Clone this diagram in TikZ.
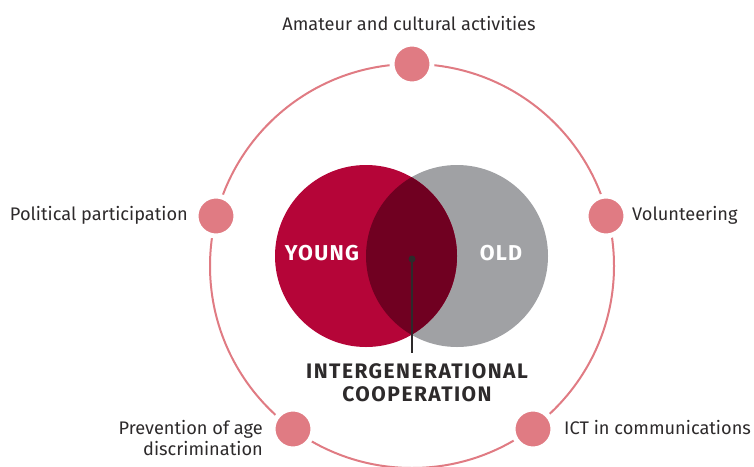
\documentclass[tikz,border=0pt]{standalone}
\usepackage{fontspec}
\setmainfont{Fira Sans}
\definecolor{young}{RGB}{181,5,56}
\definecolor{old}{RGB}{160,161,164}
\definecolor{overlap}{RGB}{112,0,33}
\definecolor{pinkdot}{RGB}{224,123,131}
\definecolor{txt}{RGB}{45,42,43}
\begin{document}
\begin{tikzpicture}[x=1pt,y=-1pt,
  topicdot/.style={circle,fill=pinkdot,draw=white,line width=5pt,minimum size=40pt,inner sep=0pt},
  venn/.style={circle,minimum size=182pt,inner sep=0pt},
  label/.style={inner sep=0pt,text=txt,font=\fontsize{18.2}{21}\selectfont},
  vennlabel/.style={inner sep=0pt,text=white,font=\fontsize{21.5}{24}\selectfont\bfseries\addfontfeatures{LetterSpace=6}},
  titlelabel/.style={inner sep=0pt,text=txt,align=center,font=\fontsize{21}{23.5}\selectfont\bfseries\addfontfeatures{LetterSpace=7}},
  ring/.style={draw=pinkdot,line width=2pt}
]
\useasboundingbox (0,0) rectangle (754,466);
% outer ring
\draw[ring] (412,266) circle (202pt);
% topic dots
\node[topicdot] (d1) at (412,64) {};
\node[topicdot] (d2) at (216,216) {};
\node[topicdot] (d3) at (606,216) {};
\node[topicdot] (d4) at (293,429) {};
\node[topicdot] (d5) at (533,429) {};
% labels
\node[label,anchor=base] (l1) at (409,30) {Amateur and cultural activities};
\node[label,anchor=base east] (l2) at (188,220) {Political participation};
\node[label,anchor=base west] (l3) at (632,220.5) {Volunteering};
\node[label,anchor=base east,align=right] (l4) at (263,455) {Prevention of age\\discrimination};
\node[label,anchor=base west] (l5) at (564,434) {ICT in communications};
% venn
\node[venn,fill=old] (old) at (457,256) {};
\node[venn,fill=young] (young) at (366,256) {};
\begin{scope}
  \clip (366,256) circle (91pt);
  \fill[overlap] (457,256) circle (91pt);
\end{scope}
\node[vennlabel,anchor=base] (ty) at (322,260.5) {YOUNG};
\node[vennlabel,anchor=base] (to) at (501,260.5) {OLD};
% pointer
\node[circle,fill=txt,inner sep=0pt,minimum size=7pt] (pt) at (412,259) {};
\coordinate (ptend) at (412,353);
\draw[txt,line width=1.2pt] (pt.center) -- (ptend);
\node[titlelabel,anchor=base] (title) at (417,401.5) {INTERGENERATIONAL\\COOPERATION};
\end{tikzpicture}
\end{document}
